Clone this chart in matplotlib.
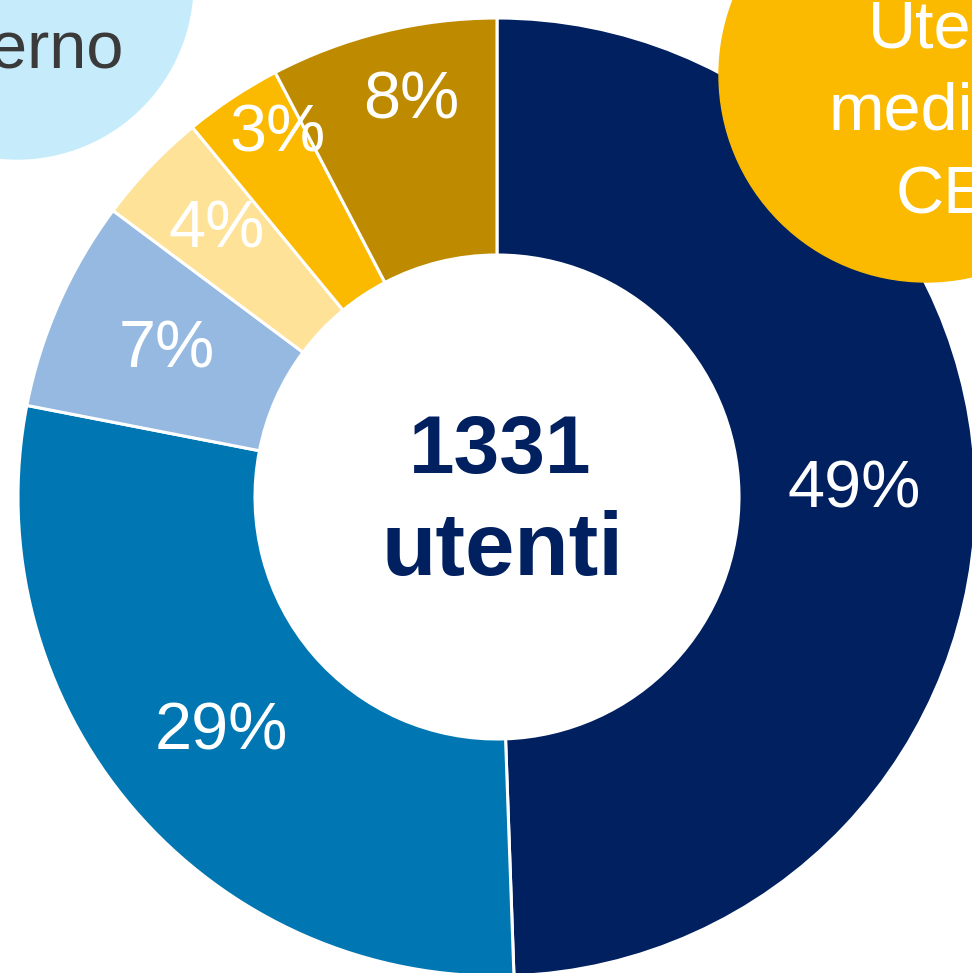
import matplotlib.pyplot as plt
from matplotlib.patches import Circle
import numpy as np

# Donut data (utenti per categoria, 1331 in totale)
categorie = ['A', 'B', 'C', 'D', 'E', 'F']
utenti = [658, 381, 95, 51, 44, 102]
colori = ['#00205F', '#0077B2', '#95B9E0', '#FDE298', '#FBBA00', '#BE8B00']
totale_label = ['1331', 'utenti']

# distanza relativa dell'etichetta dal centro (le fette piccole vanno piu' fuori)
pos_label = [0.745, 0.758, 0.754, 0.808, 0.885, 0.845]
# piccolo spostamento angolare delle etichette (gradi)
shift_label = [0, 0, 0, 0, -2.4, -1.6]

W, H = 972, 973
fig = plt.figure(figsize=(W / 100, H / 100), dpi=100)
ax = fig.add_axes([0, 0, 1, 1])

cx, cy = 497, H - 497
R = 479
spessore = 237

wedges, _ = ax.pie(utenti, colors=colori, startangle=90, counterclock=False,
                   center=(cx, cy), radius=R,
                   wedgeprops=dict(width=spessore, edgecolor='white', linewidth=2.2))

tot = sum(utenti)
for w, v, f, s in zip(wedges, utenti, pos_label, shift_label):
    ang = np.deg2rad((w.theta1 + w.theta2) / 2 + s)
    x = cx + R * f * np.cos(ang)
    y = cy + R * f * np.sin(ang)
    ax.text(x, y, f'{round(v / tot * 100)}%', ha='center', va='center',
            color='white', fontsize=48, family='Liberation Sans')

# testo centrale
ax.text(500, H - 473, totale_label[0], ha='center', va='baseline', color='#00205F',
        fontsize=59, fontweight='bold', family='Liberation Sans')
ax.text(502, H - 575, totale_label[1], ha='center', va='baseline', color='#00205F',
        fontsize=64, fontweight='bold', family='Liberation Sans')

# cerchi decorativi negli angoli
ax.add_patch(Circle((17, H + 17), 176, color='#C6ECFC', zorder=0))
ax.text(124, H - 68, 'Interno', ha='right', va='baseline', color='#3A3A3A',
        fontsize=48, family='Liberation Sans')

ax.add_patch(Circle((926, H - 75), 207, color='#FBBA00', zorder=5))
righe = [('Utenti', 868, 47), ('medici', 829, 130), ('CEI', 896, 213)]
for testo, x, y in righe:
    ax.text(x, H - y, testo, ha='left', va='baseline', color='white',
            fontsize=48, family='Liberation Sans', zorder=6)

ax.set_aspect('auto')
ax.set_xlim(0, W)
ax.set_ylim(0, H)
ax.axis('off')

plt.savefig('out.png', dpi=100)
